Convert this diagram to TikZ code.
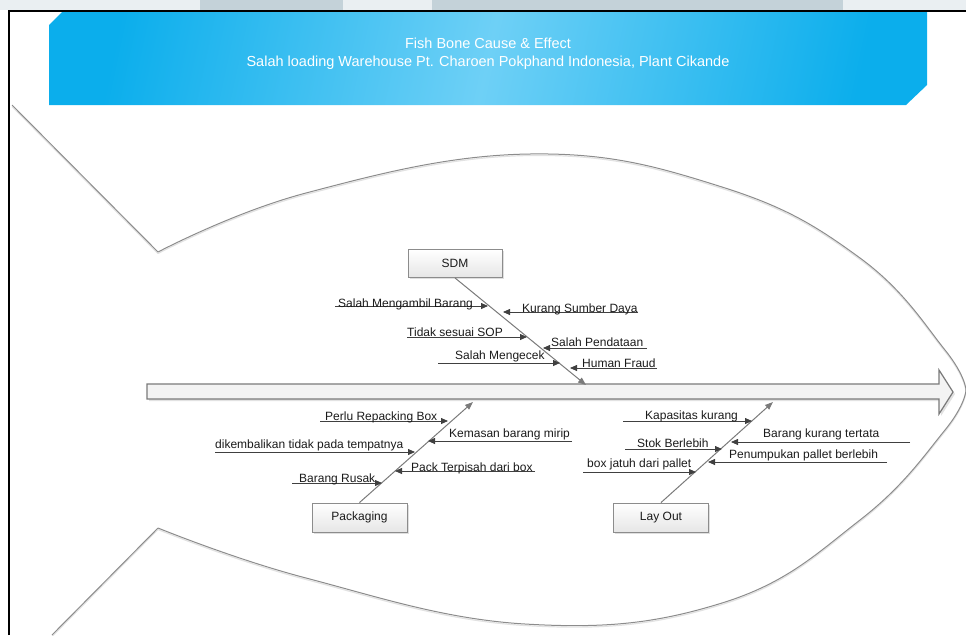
\documentclass[tikz,border=0pt]{standalone}
\usepackage{fontspec}
\setmainfont{Liberation Sans}
\usetikzlibrary{arrows.meta,shadows}
\definecolor{hdrdark}{HTML}{0BAEEC}
\definecolor{hdrlight}{HTML}{6ED0F6}
\definecolor{fishline}{HTML}{8C8C8C}
\definecolor{fishshadow}{HTML}{E2E2E2}
\definecolor{boneline}{HTML}{7A7A7A}
\definecolor{causeline}{HTML}{404040}
\definecolor{labeltext}{HTML}{1A1A1A}
\definecolor{boxline}{HTML}{8C8C8C}
\definecolor{boxbottom}{HTML}{E6E6E6}
\definecolor{spinefill}{HTML}{F3F3F3}
\definecolor{stripbg}{HTML}{EAEFF2}
\definecolor{stripblk}{HTML}{C4D2D9}
\begin{document}
\begin{tikzpicture}[x=1pt,y=-1pt,
  lbl/.style={anchor=base west, inner sep=0pt, font=\fontsize{12}{14}\selectfont, text=labeltext},
  cause/.style={draw=causeline, line width=0.8pt, -{Triangle[length=7pt,width=6pt]}},
  bone/.style={draw=boneline, line width=1pt, -{Triangle[length=8pt,width=6pt]}},
  catbox/.style={draw=boxline, line width=0.9pt, top color=white, bottom color=boxbottom,
    minimum width=94pt, minimum height=28pt, inner sep=0pt, font=\fontsize{12}{14}\selectfont, text=labeltext,
    drop shadow={shadow xshift=1.5pt, shadow yshift=-1.5pt, opacity=0.25}},
  fish/.style={draw=fishline, line width=1pt},
  fishsh/.style={draw=fishshadow, line width=1.2pt}]
\useasboundingbox (0,0) rectangle (966,635);
% top strip
\fill[stripbg] (0,0) rectangle (966,10);
\fill[stripblk] (200,0) rectangle (343,10);
\fill[stripblk] (432,0) rectangle (843,10);
% fish outline (shadow then line)
\begin{scope}[yshift=-1.5pt]
\draw[fishsh] (12,105) -- (158,252)
  plot[smooth, tension=0.7] coordinates {(158,252) (306,193) (530,154) (722,187) (860,258) (945,350) (966,390)};
\draw[fishsh] (52,635) -- (158,528)
  plot[smooth, tension=0.7] coordinates {(158,528) (306,578) (525,624) (722,603) (860,520) (945,430) (966,390)};
\end{scope}
\draw[fish] (12,105) -- (158,252)
  plot[smooth, tension=0.7] coordinates {(158,252) (306,193) (530,154) (722,187) (860,258) (945,350) (966,390)};
\draw[fish] (52,635) -- (158,528)
  plot[smooth, tension=0.7] coordinates {(158,528) (306,578) (525,624) (722,603) (860,520) (945,430) (966,390)};
% frame
\draw[line width=2pt, black] (9,635) -- (9,10.5) -- (966,10.5);
% header
\path[left color=hdrdark, right color=hdrdark, middle color=hdrlight, shading angle=78]
  (62,12) -- (927,12) -- (927,85) -- (906,105) -- (49,105) -- (49,25) -- cycle;
\node[align=center, text=white, font=\fontsize{14.5}{18}\selectfont] (title) at (488,54)
  {Fish Bone Cause \& Effect\\Salah loading Warehouse Pt. Charoen Pokphand Indonesia, Plant Cikande};
% spine
\fill[fishshadow] (149,386) -- (941,386) -- (941,372) -- (955,394) -- (941,416) -- (941,401) -- (149,401) -- cycle;
\draw[draw=boneline, fill=spinefill, line width=1.2pt]
  (147,384) -- (939,384) -- (939,370) -- (953,392) -- (939,414) -- (939,399) -- (147,399) -- cycle;
% category boxes
\node[catbox] (sdm) at (455,263.5) {SDM};
\node[catbox, minimum height=29pt, minimum width=95pt] (pkg) at (359.5,517.5) {Packaging};
\node[catbox, minimum height=29pt, minimum width=95pt] (lay) at (661,517.5) {Lay Out};
% bone ends
\coordinate (sdmEnd) at (586,385);
\coordinate (pkgEnd) at (473,402);
\coordinate (layEnd) at (773,402);
\draw[bone] (sdm.south) -- (sdmEnd);
\draw[bone] (pkg.north) -- (pkgEnd);
\draw[bone] (lay.north) -- (layEnd);
% SDM causes
\coordinate (s1a) at (335,306); \coordinate (s1b) at (488,306);
\coordinate (s2a) at (638,312); \coordinate (s2b) at (503,312);
\coordinate (s3a) at (407,337); \coordinate (s3b) at (527,337);
\coordinate (s4a) at (647,348); \coordinate (s4b) at (543,348);
\coordinate (s5a) at (438,363); \coordinate (s5b) at (560,363);
\coordinate (s6a) at (657,368); \coordinate (s6b) at (570,368);
\foreach \i in {1,...,6} {\draw[cause] (s\i a) -- (s\i b);}
\node[lbl] (s1) at (338,307.5) {Salah Mengambil Barang};
\node[lbl] (s2) at (522,312.5) {Kurang Sumber Daya};
\node[lbl] (s3) at (407,336.5) {Tidak sesuai SOP};
\node[lbl] (s4) at (551,346) {Salah Pendataan};
\node[lbl] (s5) at (455,359) {Salah Mengecek};
\node[lbl] (s6) at (582,367) {Human Fraud};
% Packaging causes
\coordinate (p1a) at (320,421); \coordinate (p1b) at (448,421);
\coordinate (p2a) at (572,441); \coordinate (p2b) at (428,441);
\coordinate (p3a) at (215,452); \coordinate (p3b) at (415,452);
\coordinate (p4a) at (535,471); \coordinate (p4b) at (395,471);
\coordinate (p5a) at (292,483); \coordinate (p5b) at (382,483);
\foreach \i in {1,...,5} {\draw[cause] (p\i a) -- (p\i b);}
\node[lbl] (p1) at (325,420) {Perlu Repacking Box};
\node[lbl] (p2) at (449,437.5) {Kemasan barang mirip};
\node[lbl] (p3) at (215,448) {dikembalikan tidak pada tempatnya};
\node[lbl] (p4) at (411,471.5) {Pack Terpisah dari box};
\node[lbl] (p5) at (299,482) {Barang Rusak};
% Lay Out causes
\coordinate (l1a) at (623,421); \coordinate (l1b) at (752,421);
\coordinate (l2a) at (910,442); \coordinate (l2b) at (731,442);
\coordinate (l3a) at (625,449); \coordinate (l3b) at (722,449);
\coordinate (l4a) at (887,462); \coordinate (l4b) at (708,462);
\coordinate (l5a) at (583,472); \coordinate (l5b) at (696,472);
\foreach \i in {1,...,5} {\draw[cause] (l\i a) -- (l\i b);}
\node[lbl] (l1) at (645,419) {Kapasitas kurang};
\node[lbl] (l2) at (763,437) {Barang kurang tertata};
\node[lbl] (l3) at (637,447) {Stok Berlebih};
\node[lbl] (l4) at (729,458) {Penumpukan pallet berlebih};
\node[lbl] (l5) at (587,467) {box jatuh dari pallet};
\end{tikzpicture}
\end{document}
